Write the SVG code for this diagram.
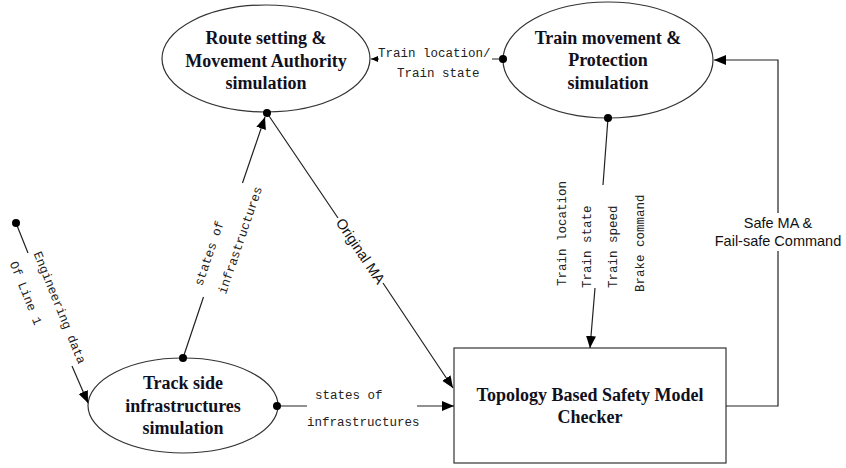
<svg xmlns="http://www.w3.org/2000/svg" width="846" height="468" viewBox="0 0 846 468">
<style>
.node{fill:#fff;stroke:#333;stroke-width:1.2}
.nt{font-family:"Liberation Serif","Times New Roman",serif;font-weight:bold;font-size:18px;fill:#101020;text-anchor:middle}
.ln{fill:none;stroke:#222;stroke-width:1.2}
.dot{fill:#000}
.mono{font-family:"Liberation Mono","DejaVu Sans Mono",monospace;font-size:12.5px;fill:#222}
.sans{font-family:"Liberation Sans",Arial,sans-serif;font-size:14.5px;fill:#111}
</style>
<defs>
<marker id="arr" markerUnits="userSpaceOnUse" markerWidth="13" markerHeight="11" refX="12" refY="5" orient="auto">
<path d="M0,0 L12,5 L0,10 z" fill="#000"/>
</marker>
<marker id="arrs" markerUnits="userSpaceOnUse" markerWidth="8" markerHeight="7" refX="7" refY="3" orient="auto">
<path d="M0,0 L7,3 L0,6 z" fill="#000"/>
</marker>
</defs>
<rect width="846" height="468" fill="#fff"/>

<g id="route-setting">
<ellipse class="node" cx="266" cy="58.5" rx="104" ry="53.5"/>
<text class="nt" x="266" y="44">Route setting &amp;</text>
<text class="nt" x="266" y="67">Movement Authority</text>
<text class="nt" x="266" y="89">simulation</text>
</g>

<g id="train-movement">
<ellipse class="node" cx="608" cy="60" rx="105" ry="58"/>
<text class="nt" x="608" y="44">Train movement &amp;</text>
<text class="nt" x="608" y="66">Protection</text>
<text class="nt" x="608" y="89">simulation</text>
</g>

<g id="track-side">
<ellipse class="node" cx="183" cy="405.5" rx="95" ry="47.5"/>
<text class="nt" x="183" y="389">Track side</text>
<text class="nt" x="183" y="412">infrastructures</text>
<text class="nt" x="183" y="434">simulation</text>
</g>

<g id="checker">
<rect class="node" x="454" y="348" width="272" height="115"/>
<text class="nt" x="590" y="401">Topology Based Safety Model</text>
<text class="nt" x="590" y="423">Checker</text>
</g>

<g id="connectors">
<path class="ln" d="M16,223 L28,253 M72,366 L88,403" marker-end="url(#arr)"/>
<circle class="dot" cx="16" cy="223" r="4"/>
<text class="mono" transform="translate(33.5,253.5) rotate(68)"><tspan x="0" y="0">Engineering data</tspan><tspan x="0" y="26">Of Line 1</tspan></text>

<path class="ln" d="M183,358 L203.5,297 M242.5,183 L265,117" marker-end="url(#arr)"/>
<circle class="dot" cx="183" cy="358" r="4"/>
<text class="mono" transform="translate(202,286.5) rotate(-71)"><tspan x="0" y="0">states of</tspan><tspan x="0" y="25">infrastructures</tspan></text>

<path class="ln" d="M267,113 L338,218 M383,283 L453,388" marker-end="url(#arr)"/>
<circle class="dot" cx="267" cy="113" r="4"/>
<text class="sans" text-anchor="middle" transform="translate(360.5,251) rotate(56)" y="5">Original MA</text>

<path class="ln" d="M277,406 H307 M417,406 H454" marker-end="url(#arr)"/>
<circle class="dot" cx="277" cy="406" r="4"/>
<text class="mono" x="315" y="399">states of</text>
<text class="mono" x="307" y="426">infrastructures</text>

<path class="ln" d="M503,59 H492 M379,59 H371" marker-end="url(#arrs)"/>
<circle class="dot" cx="503" cy="59" r="4"/>
<text class="mono" x="378" y="57">Train location/</text>
<text class="mono" x="397" y="77">Train state</text>

<path class="ln" d="M608,118 L603,185 M595,288 L590,348" marker-end="url(#arr)"/>
<circle class="dot" cx="608" cy="118" r="4"/>
<text class="mono" transform="translate(566,286) rotate(-90)">Train location</text>
<text class="mono" transform="translate(591,288) rotate(-90)">Train state</text>
<text class="mono" transform="translate(617,288) rotate(-90)">Train speed</text>
<text class="mono" transform="translate(644,292) rotate(-90)">Brake command</text>

<path class="ln" d="M726,406 H778 V251 M778,213 V60 H714" marker-end="url(#arr)"/>
<text class="sans" text-anchor="middle" x="778" y="228">Safe MA &amp;</text>
<text class="sans" text-anchor="middle" x="778" y="246">Fail-safe Command</text>
</g>
</svg>
